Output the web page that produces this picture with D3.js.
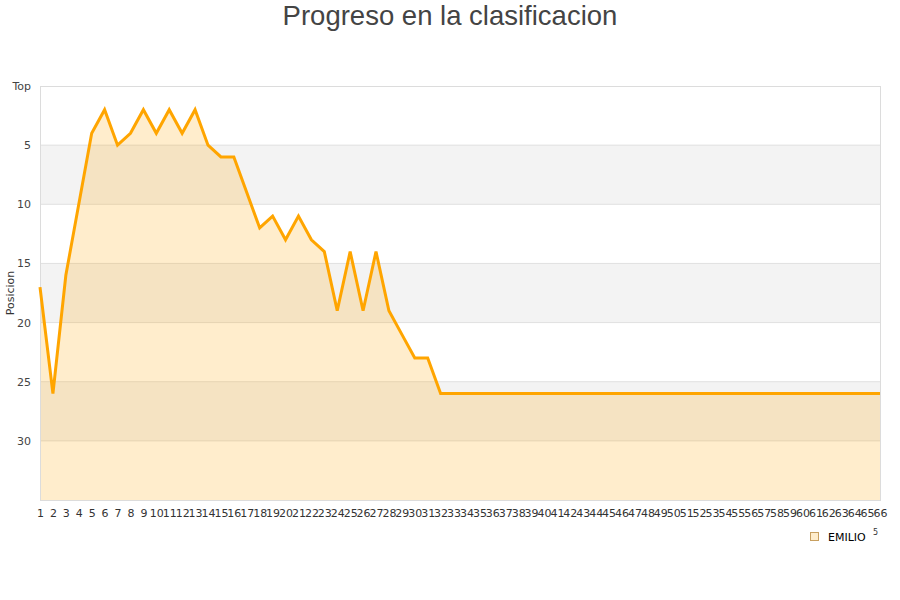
<!DOCTYPE html>
<html><head><meta charset="utf-8">
<script src="https://cdn.jsdelivr.net/npm/d3@7"></script>
<style>body{margin:0;background:#fff}svg{display:block}</style>
</head><body>
<svg id="c" width="900" height="600"></svg>
<script>
const title = "Progreso en la clasificacion";
const yTitle = "Posicion";
const seriesName = "EMILIO";
const rounds = d3.range(1, 67);
const positions = [17,26,16,10,4,2,5,4,2,4,2,4,2,5,6,6,9,12,11,13,11,13,14,19,14,19,14,19,21,23,23,26,
  26,26,26,26,26,26,26,26,26,26,26,26,26,26,26,26,26,26,26,26,26,26,26,26,26,26,26,26,26,26,26,26,26,26];
const yTicks = [0,5,10,15,20,25,30];
const yTickLabels = ["Top","5","10","15","20","25","30"];
const bands = [[5,10],[15,20],[25,30]];

const svg = d3.select("#c");
const m = {l:40, r:880, t:86, b:500};
const x = d3.scaleLinear().domain([1, 66]).range([m.l, m.r]);
const y = d3.scaleLinear().domain([0, 35]).range([m.t, m.b]);

svg.append("text").attr("x", 450).attr("y", 25).attr("text-anchor","middle")
  .attr("font-family","Liberation Sans, Arial, sans-serif").attr("font-size", 27.5).attr("fill","#444").text(title);

// bands
svg.selectAll("rect.band").data(bands).enter().append("rect")
  .attr("x", m.l).attr("width", m.r - m.l)
  .attr("y", d => y(d[0])).attr("height", d => y(d[1]) - y(d[0]))
  .attr("fill", "#f3f3f3");

// grid
svg.selectAll("line.grid").data(yTicks.filter(d => d > 0)).enter().append("line")
  .attr("x1", m.l).attr("x2", m.r).attr("y1", d => y(d)).attr("y2", d => y(d))
  .attr("stroke", "#e0e0e0").attr("stroke-width", 1);

const data = rounds.map((r, i) => ({r, p: positions[i]}));
svg.append("path").datum(data)
  .attr("d", d3.area().x(d => x(d.r)).y0(y(35)).y1(d => y(d.p)))
  .attr("fill", "#ffa500").attr("fill-opacity", 0.2);

// border
svg.append("rect").attr("x", m.l + 0.5).attr("y", m.t + 0.5).attr("width", m.r - m.l).attr("height", m.b - m.t)
  .attr("fill","none").attr("stroke","#dcdcdc");

svg.append("path").datum(data)
  .attr("d", d3.line().x(d => x(d.r)).y(d => y(d.p)))
  .attr("fill","none").attr("stroke","#ffa500").attr("stroke-width", 3).attr("stroke-linejoin","miter");

// y axis labels
const yAxis = d3.axisLeft(y).tickValues(yTicks).tickFormat((d,i) => yTickLabels[i]).tickSize(0).tickPadding(9);
const ya = svg.append("g").attr("transform", `translate(${m.l},0)`).call(yAxis);
ya.select(".domain").remove();
ya.selectAll("text").attr("font-family","DejaVu Sans, sans-serif").attr("font-size", 11).attr("fill","#444");

// x axis labels
const xAxis = d3.axisBottom(x).tickValues(rounds).tickFormat(d3.format("d")).tickSize(0).tickPadding(9);
const xa = svg.append("g").attr("transform", `translate(0,${m.b})`).call(xAxis);
xa.select(".domain").remove();
xa.selectAll("text").attr("font-family","DejaVu Sans, sans-serif").attr("font-size", 11).attr("fill","#333");

svg.append("text").attr("transform", `translate(14,${(m.t+m.b)/2}) rotate(-90)`).attr("text-anchor","middle")
  .attr("font-family","DejaVu Sans, sans-serif").attr("font-size", 11).attr("fill","#333").text(yTitle);

// legend
svg.append("rect").attr("x", 810.5).attr("y", 532.5).attr("width", 8).attr("height", 8)
  .attr("fill","#ffedcc").attr("stroke","#c8a060");
svg.append("text").attr("x", 828).attr("y", 541).attr("font-family","DejaVu Sans, sans-serif")
  .attr("font-size", 11).attr("fill","#000").text(seriesName);
svg.append("text").attr("x", 873).attr("y", 535).attr("font-family","DejaVu Sans, sans-serif")
  .attr("font-size", 8).attr("fill","#333").text("5");
</script>
</body></html>
